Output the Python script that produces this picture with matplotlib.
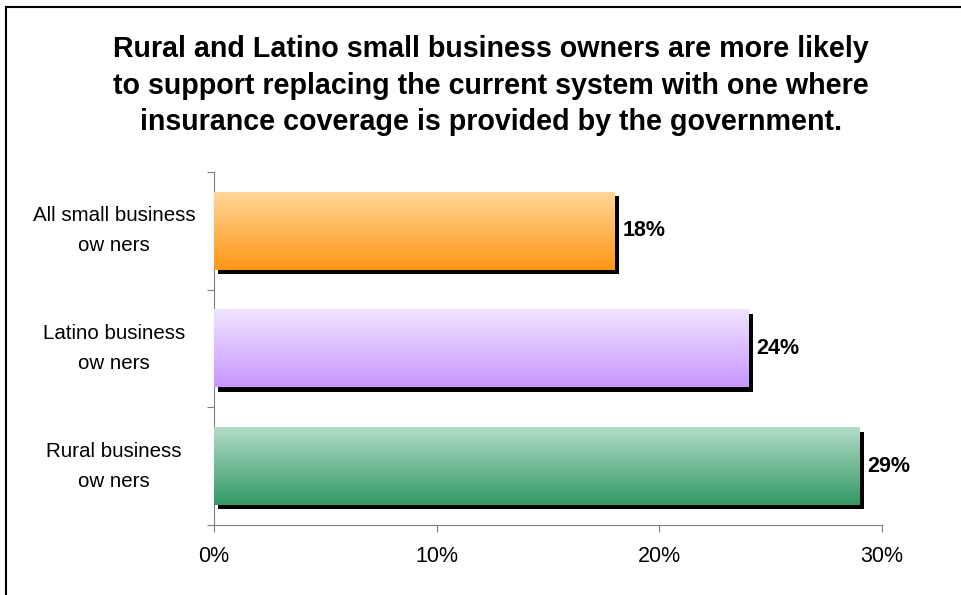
#Gráfico de barras horizontais com gradiente e sombra

import numpy as np
import matplotlib.pyplot as plt
import matplotlib.patheffects as pe
from matplotlib.colors import LinearSegmentedColormap
from matplotlib.lines import Line2D

plt.rcParams['font.family'] = ['Liberation Sans', 'DejaVu Sans']

categories = ["All small business\now ners", "Latino business\now ners", "Rural business\now ners"]
values = [18, 24, 29]
top_colors = ["#FFD699", "#F0E4FF", "#B2DCC8"]
bottom_colors = ["#FF9614", "#C896FF", "#339966"]
xticks = [0, 10, 20, 30]
title = ("Rural and Latino small business owners are more likely\n"
         "to support replacing the current system with one where\n"
         "insurance coverage is provided by the government.")

fig = plt.figure(figsize=(9.61, 5.95), dpi=100)
ax = fig.add_axes([0.2227, 0.1176, 0.6951, 0.5933])

pos = [2, 1, 0]
h = 0.66
grad = np.linspace(0, 1, 100).reshape(-1, 1)

for y, v, ct, cb in zip(pos, values, top_colors, bottom_colors):
    bar = ax.barh(y, v, height=h, color=cb, linewidth=0)[0]
    bar.set_path_effects([pe.SimplePatchShadow(offset=(3.2, -3.2), shadow_rgbFace='k', alpha=1), pe.Normal()])
    cmap = LinearSegmentedColormap.from_list("g", [cb, ct])
    ax.imshow(grad, cmap=cmap, aspect='auto', origin='lower',
              extent=(0, v, y - h / 2, y + h / 2), zorder=3)
    ax.text(v + 0.35, y, f"{v}%", va='center', ha='left', fontsize=15.5, fontweight='bold')

ax.set_xlim(0, 30)
ax.set_ylim(-0.5, 2.5)

ax.set_xticks(xticks)
ax.set_xticklabels([f"{t}%" for t in xticks], fontsize=15.5)
ax.set_yticks([-0.5, 0.5, 1.5, 2.5])
ax.set_yticklabels([])
ax.set_yticks(pos, minor=True)
ax.set_yticklabels(categories, minor=True, fontsize=14.8, ha='center', va='center', linespacing=1.75)
ax.tick_params(axis='y', which='minor', length=0, pad=72)
ax.tick_params(axis='both', which='major', length=5, color='#808080')
ax.tick_params(axis='x', pad=10)

for s in ['top', 'right']:
    ax.spines[s].set_visible(False)
for s in ['left', 'bottom']:
    ax.spines[s].set_color('#808080')

fig.text(0.511, 0.856, title, ha='center', va='center', fontsize=20.6,
         fontweight='bold', linespacing=1.4)

# moldura
fig.add_artist(Line2D([6 / 961, 6 / 961], [0, 1 - 7 / 595], color='k', lw=1.5))
fig.add_artist(Line2D([6 / 961, 1], [1 - 7 / 595, 1 - 7 / 595], color='k', lw=1.5))

plt.savefig("out.png", dpi=100)
